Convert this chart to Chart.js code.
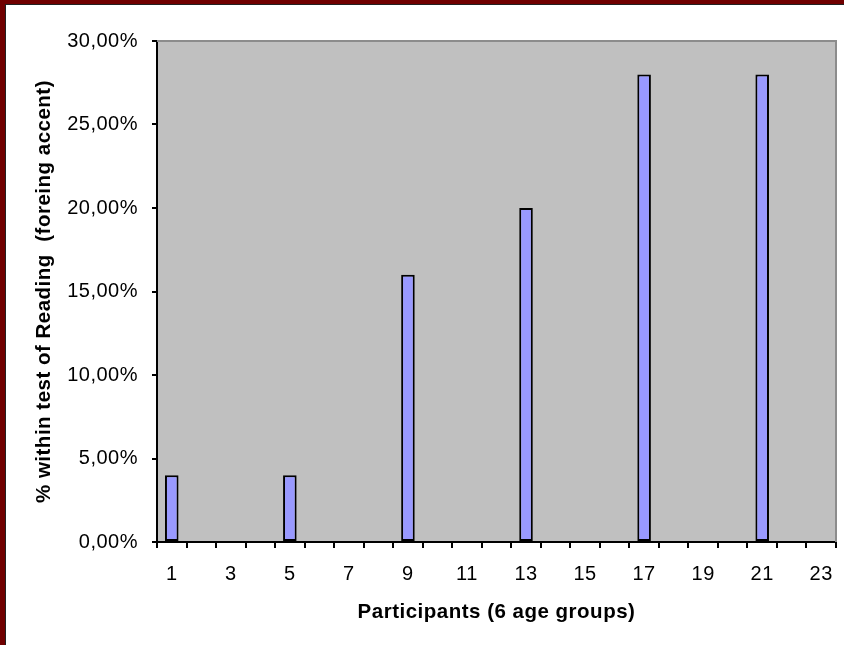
<!DOCTYPE html>
<html>
<head>
<meta charset="utf-8">
<script src="https://cdn.jsdelivr.net/npm/chart.js@4/dist/chart.umd.min.js"></script>
<style>
  html, body { margin: 0; padding: 0; background: #ffffff; }
  #wrap { position: relative; width: 844px; height: 645px; overflow: hidden; }
  #c { position: absolute; left: 0; top: 0; }
  .b { position: absolute; }
</style>
</head>
<body>
<div id="wrap">
  <canvas id="c" width="844" height="645"></canvas>
  <div class="b" style="left:0;top:0;width:844px;height:4px;background:#700000"></div>
  <div class="b" style="left:0;top:0;width:5px;height:645px;background:#700000"></div>
  <div class="b" style="left:5px;top:4px;width:839px;height:1px;background:#222"></div>
  <div class="b" style="left:5px;top:4px;width:1px;height:641px;background:#222"></div>
</div>
<script>
// ---- data ----
const categories = ['1','2','3','4','5','6','7','8','9','10','11','12','13','14','15','16','17','18','19','20','21','22','23'];
const values = [4, null, null, null, 4, null, null, null, 16, null, null, null, 20, null, null, null, 28, null, null, null, 28, null, null];
const xTickLabels = ['1','3','5','7','9','11','13','15','17','19','21','23'];
const yMin = 0, yMax = 30, yStep = 5;
const xTitle = 'Participants (6 age groups)';
const yTitle = '% within test of Reading  (foreing accent)';

const LS = '0.5px';
const spacing = {
  id: 'spacing',
  beforeUpdate(chart) { chart.ctx.letterSpacing = LS; },
  beforeLayout(chart) { chart.ctx.letterSpacing = LS; },
  beforeDraw(chart) {
    chart.ctx.letterSpacing = LS;
    const a = chart.chartArea, ctx = chart.ctx;
    ctx.save();
    ctx.fillStyle = '#c0c0c0';
    ctx.fillRect(a.left, a.top, a.right - a.left, a.bottom - a.top);
    ctx.restore();
  },
  afterDatasetsDraw(chart) {
    const a = chart.chartArea, ctx = chart.ctx;
    ctx.save();
    ctx.strokeStyle = '#8c8c8c';
    ctx.lineWidth = 2;
    ctx.beginPath();
    ctx.moveTo(a.left, a.top);
    ctx.lineTo(a.right, a.top);
    ctx.lineTo(a.right, a.bottom);
    ctx.stroke();
    ctx.restore();
  }
};

const FAM = 'Liberation Sans, Arial, sans-serif';

new Chart(document.getElementById('c'), {
  type: 'bar',
  data: {
    labels: categories,
    datasets: [{
      data: values,
      backgroundColor: '#9999ff',
      borderColor: '#000000',
      borderWidth: 2,
      borderSkipped: false,
      barPercentage: 0.46,
      categoryPercentage: 1.0
    }]
  },
  options: {
    responsive: false,
    animation: false,
    layout: { padding: { top: 41, right: 8, bottom: 0, left: 0 } },
    plugins: { legend: { display: false }, tooltip: { enabled: false } },
    scales: {
      x: {
        offset: true,
        grid: { display: true, drawOnChartArea: false, drawTicks: true, tickLength: 6, color: '#000', lineWidth: 2, offset: true },
        border: { display: true, color: '#000', width: 2 },
        ticks: {
          autoSkip: false, maxRotation: 0, minRotation: 0, padding: 14.5,
          color: '#000', font: { family: FAM, size: 20 },
          callback: function(v, i) { const l = categories[i]; return xTickLabels.includes(l) ? l : ''; }
        },
        title: {
          display: true, text: xTitle, color: '#000',
          font: { family: FAM, size: 20.5, weight: 'bold' },
          padding: { top: 0, bottom: 20.7 }
        },
        afterFit(s) { s.height = 103; s.paddingLeft = 0; s.paddingRight = 0; }
      },
      y: {
        min: yMin, max: yMax,
        grid: { display: true, drawOnChartArea: false, drawTicks: true, tickLength: 5, color: '#000', lineWidth: 2 },
        border: { display: true, color: '#000', width: 2 },
        ticks: {
          stepSize: yStep, padding: 14, color: '#000',
          font: { family: FAM, size: 20 },
          callback: function(v) { return v.toFixed(2).replace('.', ',') + '%'; }
        },
        title: {
          display: true, text: yTitle, color: '#000',
          font: { family: FAM, size: 20.5, weight: 'bold' },
          padding: { top: 32, bottom: 0 }
        },
        afterFit(s) { s.width = 157; s.paddingTop = 0; s.paddingBottom = 0; }
      }
    }
  },
  plugins: [spacing]
});
</script>
</body>
</html>
